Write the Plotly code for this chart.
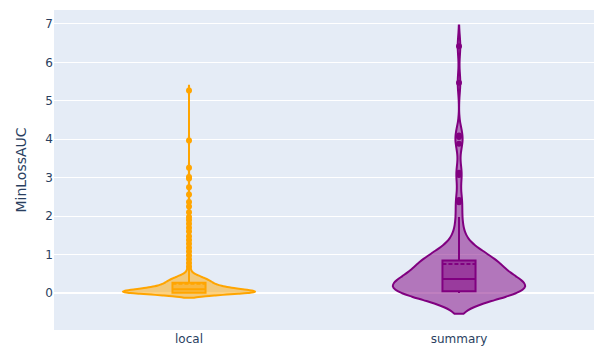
import plotly.graph_objects as go

categories = ["local", "summary"]
colors = ["orange", "purple"]

local_values = [
    0, 0, 0, 0, 0, 0, 0, 0, 0, 0, 0, 0, 0, 0, 0, 0, 0, 0, 0, 0,
    0, 0, 0, 0, 0, 0, 0, 0, 0, 0, 0, 0, 0, 0, 0, 0, 0, 0, 0, 0,
    0, 0, 0, 0, 0, 0, 0, 0, 0, 0, 0, 0, 0, 0, 0, 0, 0, 0, 0, 0,
    0, 0, 0,
    0.01, 0.01, 0.01, 0.01, 0.01, 0.01, 0.01, 0.01, 0.01, 0.01,
    0.01, 0.01, 0.01, 0.01, 0.01, 0.01, 0.01, 0.01, 0.01, 0.01,
    0.01, 0.01, 0.01, 0.01, 0.01, 0.01, 0.01, 0.01, 0.01, 0.01,
    0.01, 0.01, 0.01, 0.01, 0.01, 0.01, 0.01, 0.01, 0.01, 0.01,
    0.01, 0.01, 0.01, 0.01, 0.01, 0.01, 0.01, 0.01, 0.01, 0.01,
    0.02, 0.02, 0.02, 0.02, 0.02, 0.02, 0.02, 0.02, 0.02, 0.02, 0.02, 0.02, 0.02,
    0.03, 0.03, 0.03, 0.03, 0.03, 0.03, 0.03, 0.03, 0.03, 0.03, 0.03, 0.03, 0.03,
    0.04, 0.04, 0.04, 0.04, 0.04, 0.04, 0.04, 0.04, 0.04, 0.04, 0.04, 0.04,
    0.05, 0.05, 0.05, 0.05, 0.05, 0.05, 0.05, 0.05, 0.05, 0.05, 0.05, 0.05,
    0.06, 0.06, 0.06, 0.06, 0.06, 0.06, 0.06, 0.06, 0.06, 0.06, 0.06, 0.06,
    0.07, 0.07, 0.07, 0.07, 0.07, 0.07, 0.07, 0.07, 0.07, 0.07, 0.07, 0.07,
    0.08, 0.08, 0.08, 0.08, 0.08, 0.08, 0.08, 0.08, 0.08, 0.08, 0.08, 0.08,
    0.09, 0.09, 0.09, 0.09, 0.09, 0.09, 0.09, 0.09, 0.09, 0.09, 0.09, 0.09,
    0.10, 0.10, 0.10, 0.10, 0.10, 0.10, 0.10, 0.10, 0.10, 0.10, 0.10, 0.10,
    0.11, 0.11, 0.11, 0.11, 0.11, 0.11, 0.11, 0.11, 0.11,
    0.12, 0.12, 0.12, 0.12, 0.12, 0.12, 0.12, 0.12, 0.12,
    0.13, 0.13, 0.13, 0.13, 0.13, 0.13, 0.13, 0.13,
    0.14, 0.14, 0.14, 0.14, 0.14, 0.14, 0.14, 0.14,
    0.15, 0.15, 0.15, 0.15, 0.15, 0.15, 0.15, 0.15,
    0.16, 0.16, 0.16, 0.16, 0.16, 0.16, 0.16,
    0.17, 0.17, 0.17, 0.17, 0.17, 0.17, 0.17,
    0.18, 0.18, 0.18, 0.18, 0.18, 0.18, 0.18,
    0.19, 0.19, 0.19, 0.19, 0.19, 0.19,
    0.20, 0.20, 0.20, 0.20, 0.20, 0.20,
    0.21, 0.21, 0.21, 0.21, 0.21, 0.21,
    0.22, 0.22, 0.22, 0.22, 0.22, 0.22,
    0.23, 0.23, 0.23, 0.23, 0.23,
    0.24, 0.24, 0.24, 0.24, 0.24,
    0.25, 0.25, 0.25, 0.25, 0.25,
    0.26, 0.26, 0.26, 0.26,
    0.27, 0.27, 0.27, 0.27,
    0.28, 0.28, 0.28, 0.28, 0.28, 0.29, 0.29, 0.29, 0.29, 0.29,
    0.30, 0.30, 0.30, 0.30, 0.30, 0.31, 0.31, 0.31, 0.31, 0.31,
    0.32, 0.32, 0.32, 0.32, 0.32, 0.33, 0.33, 0.33, 0.33, 0.33,
    0.34, 0.34, 0.34, 0.34, 0.34, 0.35, 0.35, 0.35, 0.35, 0.35,
    0.36, 0.36, 0.36, 0.37, 0.37, 0.37, 0.38, 0.38, 0.38,
    0.39, 0.39, 0.39, 0.40, 0.40, 0.40, 0.41, 0.41, 0.41,
    0.42, 0.42, 0.42, 0.43, 0.43, 0.43, 0.44, 0.44, 0.44,
    0.45, 0.45, 0.45,
    0.46, 0.47, 0.48, 0.49, 0.50, 0.51, 0.52, 0.55, 0.57, 0.60,
    0.61, 0.64, 0.66,
    0.69, 0.78, 0.88, 0.98, 1.08, 1.18, 1.28, 1.38, 1.48, 1.60,
    1.70, 1.80, 1.90, 1.98, 2.10, 2.25, 2.37, 2.56, 2.75, 2.98,
    3.02, 3.26, 3.97, 5.27,
]

# summary: MinLossAUC values
summary_values = [
    0.00, 0.00, 0.00, 0.00, 0.00, 0.01, 0.01, 0.01, 0.01, 0.02,
    0.02, 0.02, 0.02, 0.03, 0.03, 0.03, 0.03, 0.03, 0.04, 0.04,
    0.04, 0.04, 0.04, 0.05, 0.05, 0.05, 0.05,
    0.07, 0.09, 0.11, 0.13, 0.15, 0.17, 0.19, 0.21, 0.22, 0.23,
    0.24, 0.25, 0.26, 0.27, 0.28, 0.29, 0.30, 0.31, 0.32, 0.33,
    0.34, 0.35, 0.36, 0.37, 0.37,
    0.39, 0.42, 0.45, 0.48, 0.51, 0.54, 0.57, 0.60, 0.62, 0.64,
    0.66, 0.68, 0.70, 0.72, 0.74, 0.75, 0.77, 0.78, 0.80, 0.81,
    0.82, 0.83, 0.84, 0.86, 0.87,
    0.89, 0.91, 0.94, 0.97, 1.00, 1.04, 1.08, 1.13, 1.19, 1.27,
    1.38, 1.55, 1.76, 1.98,
    2.36, 2.42, 3.07, 3.13, 3.88, 4.06, 4.10, 5.47, 6.42,
]

series = [local_values, summary_values]
bandwidths = [0.06, 0.27]

fig = go.Figure()
for name, vals, col, bw in zip(categories, series, colors, bandwidths):
    fig.add_trace(go.Violin(
        y=vals,
        name=name,
        line=dict(color=col),
        box=dict(visible=True),
        meanline=dict(visible=True),
        points="outliers",
        bandwidth=bw,
        width=0.49,
        showlegend=False,
    ))

fig.update_layout(
    width=601,
    height=347,
    margin=dict(l=46, r=15, t=2, b=25),
    violinmode="overlay",
    plot_bgcolor="#E5ECF6",
    paper_bgcolor="white",
    font=dict(family="DejaVu Sans", size=12, color="#2a3f5f"),
    yaxis=dict(title=dict(text="MinLossAUC", font=dict(size=14)),
               range=[-0.96, 7.36],
               gridcolor="white", zerolinecolor="white", zerolinewidth=2,
               dtick=1),
    xaxis=dict(showgrid=False, range=[-0.5, 1.5]),
)

fig.write_html("out.html")
